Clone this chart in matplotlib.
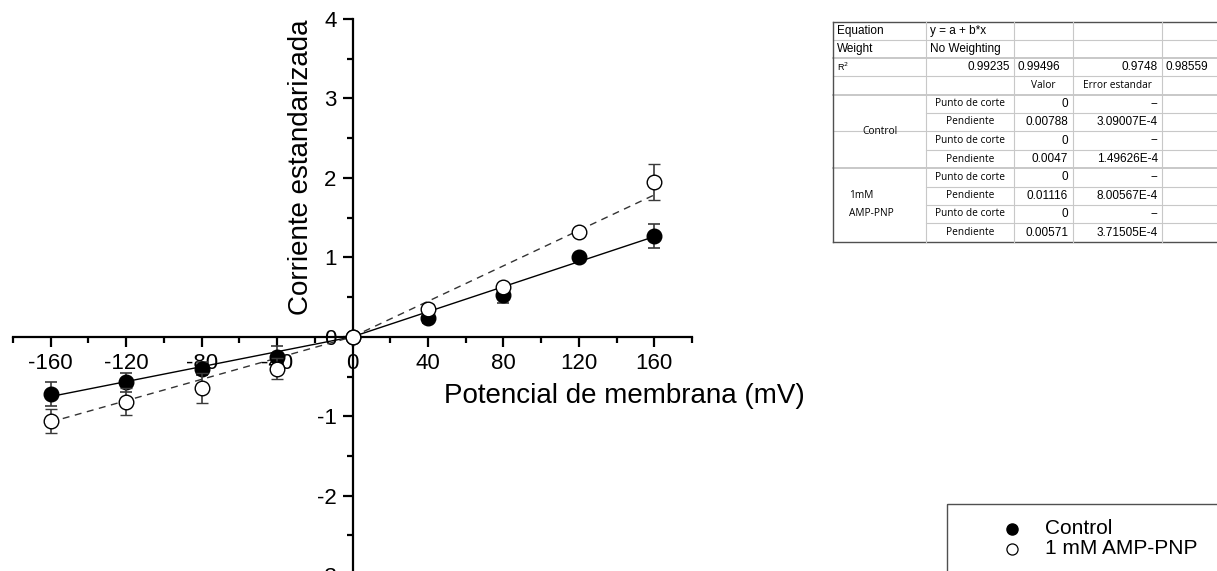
import matplotlib
matplotlib.use("Agg")
import matplotlib.pyplot as plt
from matplotlib.patches import Rectangle
from matplotlib.ticker import MultipleLocator

plt.rcParams['font.family'] = ['Liberation Sans', 'DejaVu Sans']
plt.rcParams['axes.unicode_minus'] = False

# membrane potential (mV) and normalised current, mean +/- error
voltages = [-160, -120, -80, -40, 0, 40, 80, 120, 160]
control = [-0.72, -0.57, -0.40, -0.25, 0.0, 0.24, 0.52, 1.00, 1.27]
control_err = [0.15, 0.12, 0.08, 0.13, 0.0, 0.07, 0.09, 0.0, 0.15]
amp_pnp = [-1.06, -0.82, -0.64, -0.40, 0.0, 0.35, 0.63, 1.32, 1.95]
amp_pnp_err = [0.15, 0.17, 0.19, 0.13, 0.0, 0.06, 0.05, 0.05, 0.23]

# linear fits through the origin, separate slope for each side
fit_x_neg = [-160, 0]
fit_x_pos = [0, 160]
control_slopes = (0.0047, 0.00788)
amp_slopes = (0.0067, 0.01116)

# fit summary table
table_top = [["Equation", "y = a + b*x"], ["Weight", "No Weighting"]]
r2_values = ["0.99235", "0.99496", "0.9748", "0.98559"]
table_header = ["Valor", "Error estandar"]
row_names = ["Punto de corte", "Pendiente"] * 4
row_values = ["0", "0.00788", "0", "0.0047", "0", "0.01116", "0", "0.00571"]
row_errors = ["--", "3.09007E-4", "--", "1.49626E-4",
              "--", "8.00567E-4", "--", "3.71505E-4"]

legend_labels = ["Control", "1 mM AMP-PNP"]

W, H = 1217, 571
fig = plt.figure(figsize=(W / 100, H / 100), dpi=100)

# main axes, crossing spines at the origin
ax = fig.add_axes([13 / W, 1 - 591 / H, 679 / W, 572 / H])
ax.set_xlim(-180, 180)
ax.set_ylim(-3.2, 4)
ax.patch.set_alpha(0)
for side in ("top", "right"):
    ax.spines[side].set_visible(False)
ax.spines["left"].set_position(("data", 0))
ax.spines["bottom"].set_position(("data", 0))
for side in ("left", "bottom"):
    ax.spines[side].set_linewidth(1.6)

ax.xaxis.set_major_locator(MultipleLocator(40))
ax.xaxis.set_minor_locator(MultipleLocator(20))
ax.yaxis.set_major_locator(MultipleLocator(1))
ax.yaxis.set_minor_locator(MultipleLocator(0.5))
ax.tick_params(which="major", direction="out", length=7.5, width=1.6,
               labelsize=16, pad=4)
ax.tick_params(which="minor", direction="out", length=4.5, width=1.6)

ax.set_xlabel("Potencial de membrana (mV)", fontsize=20)
ax.xaxis.set_label_coords(0.90, 0.364)
ax.set_ylabel("Corriente estandarizada", fontsize=20)
ax.yaxis.set_label_coords(0.443, 0.741)

neg_c = [control_slopes[0] * v for v in fit_x_neg]
pos_c = [control_slopes[1] * v for v in fit_x_pos]
neg_a = [amp_slopes[0] * v for v in fit_x_neg]
pos_a = [amp_slopes[1] * v for v in fit_x_pos]
ax.plot(fit_x_neg, neg_c, color="black", lw=1.0, zorder=2)
ax.plot(fit_x_pos, pos_c, color="black", lw=1.0, zorder=2)
ax.plot(fit_x_neg, neg_a, color="#333333", lw=1.0, ls=(0, (5, 4)), zorder=2)
ax.plot(fit_x_pos, pos_a, color="#333333", lw=1.0, ls=(0, (5, 4)), zorder=2)

ax.errorbar(voltages, control, yerr=control_err, fmt="o", ms=10.5,
            mfc="black", mec="black", ecolor="#3a3a3a", elinewidth=1.2,
            capsize=4.5, capthick=1.2, zorder=3)
ax.errorbar(voltages, amp_pnp, yerr=amp_pnp_err, fmt="o", ms=10.5,
            mfc="white", mec="black", mew=1.0, ecolor="#3a3a3a",
            elinewidth=1.2, capsize=4.5, capthick=1.2, zorder=4)

# overlay in pixel coordinates for the table and the legend box
ov = fig.add_axes([0, 0, 1, 1])
ov.set_xlim(0, W)
ov.set_ylim(H, 0)
ov.axis("off")

cols = [833, 926, 1014, 1073, 1162, 1230]
rows = [22, 40, 58, 76, 95, 113, 131, 150, 168, 187, 205, 223, 242]
grid = "#c8c8c8"
dark = "#505050"

# horizontal rules
for i, y in enumerate(rows[1:-1], start=1):
    if i in (5, 7, 9, 10, 11):
        x0 = cols[1]
    else:
        x0 = cols[0]
    ov.plot([x0, W], [y, y], color=grid, lw=1.4 if i in (2, 4, 8) else 0.8)
ov.plot([cols[0], W], [rows[0], rows[0]], color=dark, lw=1.0)
ov.plot([cols[0], W], [rows[-1], rows[-1]], color=dark, lw=1.0)
ov.plot([cols[0], cols[0]], [rows[0], rows[-1]], color=dark, lw=1.0)
for x in cols[1:5]:
    ov.plot([x, x], [rows[0], rows[-1]], color=grid, lw=0.8)

fs_t = 8.5
fs_s = 7.3
for i, (name, val) in enumerate(table_top):
    yc = (rows[i] + rows[i + 1]) / 2
    ov.text(837, yc, name, fontsize=fs_t, va="center", ha="left")
    ov.text(930, yc, val, fontsize=fs_t, va="center", ha="left")

yc = (rows[2] + rows[3]) / 2
ov.text(837, yc, "R$^2$", fontsize=6.5, va="center", ha="left")
ov.text(cols[2] - 4, yc, r2_values[0], fontsize=fs_t, va="center", ha="right")
ov.text(cols[2] + 4, yc, r2_values[1], fontsize=fs_t, va="center", ha="left")
ov.text(cols[4] - 4, yc, r2_values[2], fontsize=fs_t, va="center", ha="right")
ov.text(cols[4] + 4, yc, r2_values[3], fontsize=fs_t, va="center", ha="left")

yc = (rows[3] + rows[4]) / 2
ov.text((cols[2] + cols[3]) / 2, yc, table_header[0], fontsize=fs_s,
        va="center", ha="center", family="Open Sans")
ov.text((cols[3] + cols[4]) / 2, yc, table_header[1], fontsize=fs_s,
        va="center", ha="center", family="Open Sans")

for i in range(8):
    yc = (rows[4 + i] + rows[5 + i]) / 2
    ov.text((cols[1] + cols[2]) / 2, yc, row_names[i], fontsize=fs_s,
            va="center", ha="center", family="Open Sans")
    ov.text(cols[3] - 5, yc, row_values[i], fontsize=fs_t,
            va="center", ha="right")
    ov.text(cols[4] - 4, yc, row_errors[i], fontsize=fs_t,
            va="center", ha="right")

ov.text(880, 131, "Control", fontsize=fs_s, va="center", ha="center",
        family="Open Sans")
ov.text(849, 195, "1mM", fontsize=fs_s, va="center", ha="left",
        family="Open Sans")
ov.text(849, 213, "AMP-PNP", fontsize=fs_s, va="center", ha="left",
        family="Open Sans")

# legend box running off the lower right corner
ov.add_patch(Rectangle((947, 504), 300, 100, fill=False, ec=dark, lw=1.0))
ov.plot([1012], [529], "o", ms=8, mfc="black", mec="black")
ov.plot([1012], [549], "o", ms=8, mfc="white", mec="black", mew=0.9)
ov.text(1045, 529, legend_labels[0], fontsize=15, va="center", ha="left")
ov.text(1045, 549, legend_labels[1], fontsize=15, va="center", ha="left")

fig.savefig("out.png", dpi=100)
